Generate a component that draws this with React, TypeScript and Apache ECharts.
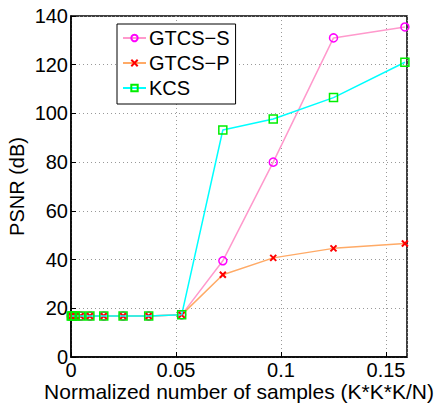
import React, { useEffect, useRef } from "react";
import * as echarts from "echarts";

const xSamples = [0.0001, 0.0006, 0.002, 0.0046, 0.009, 0.0156, 0.0248, 0.037, 0.0527, 0.0723, 0.0963, 0.125, 0.159];
const gtcsS = [16.8, 16.8, 16.8, 16.8, 16.8, 16.8, 16.8, 16.8, 17.3, 39.5, 80, 131, 135.5];
const gtcsP = [16.8, 16.8, 16.8, 16.8, 16.8, 16.8, 16.8, 16.8, 17.3, 33.8, 40.7, 44.6, 46.6];
const kcs = [16.8, 16.8, 16.8, 16.8, 16.8, 16.8, 16.8, 16.8, 17.3, 93.2, 97.7, 106.5, 121];
const seriesNames = ["GTCS\u2212S", "GTCS\u2212P", "KCS"];
const yTicks = [0, 20, 40, 60, 80, 100, 120, 140];
const xTicks = [0, 0.05, 0.1, 0.15];

const FONT = "'Liberation Sans', Arial, sans-serif";
const FS = 20;

export default function App() {
  const ref = useRef<HTMLDivElement>(null);
  useEffect(() => {
    const chart = echarts.init(ref.current!, null, { renderer: "svg" });
    const pair = (ys: number[]) => xSamples.map((x, i) => [x, ys[i]]);
    chart.setOption({
      animation: false,
      backgroundColor: "#ffffff",
      textStyle: { fontFamily: FONT },
      grid: {
        left: 71,
        right: 35,
        top: 16,
        bottom: 47,
        show: true,
        borderColor: "#000",
        borderWidth: 1.5,
        containLabel: false,
        outerBoundsMode: "none",
      },
      legend: {
        orient: "vertical",
        left: 117,
        top: 24,
        padding: [4, 6, 6, 5],
        itemGap: 5,
        itemWidth: 23,
        itemHeight: 8,
        borderColor: "#000",
        borderWidth: 1,
        backgroundColor: "#fff",
        textStyle: { fontSize: FS, color: "#000", fontFamily: FONT, padding: [0, 0, 0, -2] },
        data: seriesNames,
      },
      xAxis: {
        type: "value",
        min: 0,
        max: 0.16,
        interval: 0.05,
        name: "Normalized number of samples (K*K*K/N)",
        nameLocation: "middle",
        nameGap: 24,
        nameMoveOverlap: false,
        nameTextStyle: { fontSize: 21, color: "#000", fontFamily: FONT, verticalAlign: "top" },
        axisLine: { show: true, lineStyle: { color: "#000", width: 1.5 } },
        axisTick: { show: true, inside: true, length: 5, lineStyle: { color: "#000" } },
        axisLabel: {
          fontSize: FS,
          color: "#000",
          margin: 3,
          showMaxLabel: false,
          formatter: (v: number) => (xTicks.some((t) => Math.abs(t - v) < 1e-9) ? String(+v.toFixed(2)) : ""),
        },
        splitLine: { show: true, lineStyle: { color: "#999", type: [1, 3], width: 1 } },
      },
      yAxis: {
        type: "value",
        min: yTicks[0],
        max: yTicks[yTicks.length - 1],
        interval: 20,
        name: "PSNR (dB)",
        nameLocation: "middle",
        nameGap: 44,
        nameMoveOverlap: false,
        nameTextStyle: { fontSize: FS, color: "#000", fontFamily: FONT },
        axisLine: { show: true, lineStyle: { color: "#000", width: 1.5 } },
        axisTick: { show: true, inside: true, length: 5, lineStyle: { color: "#000" } },
        axisLabel: { fontSize: FS, color: "#000", margin: 3 },
        splitLine: { show: true, lineStyle: { color: "#999", type: [1, 3], width: 1 } },
      },
      series: [
        {
          name: seriesNames[0],
          type: "line",
          data: pair(gtcsS),
          symbol: "circle",
          symbolSize: 8,
          z: 2,
          lineStyle: { color: "#ff99cc", width: 1.5 },
          itemStyle: { color: "rgba(0,0,0,0)", borderColor: "#ff00ff", borderWidth: 1.5 },
        },
        {
          name: seriesNames[1],
          type: "line",
          data: pair(gtcsP),
          symbol: "path://M0,0L10,10M10,0L0,10",
          symbolSize: 6,
          z: 3,
          lineStyle: { color: "#ffaa66", width: 1.5 },
          itemStyle: { color: "#ff0000", borderColor: "#ff0000", borderWidth: 2 },
        },
        {
          name: seriesNames[2],
          type: "line",
          data: pair(kcs),
          symbol: "rect",
          symbolSize: 8,
          z: 4,
          lineStyle: { color: "#00ffff", width: 1.5 },
          itemStyle: { color: "rgba(0,0,0,0)", borderColor: "#00ee00", borderWidth: 1.5 },
        },
      ],
    });
    return () => chart.dispose();
  }, []);
  return <div ref={ref} style={{ width: 442, height: 404, position: "absolute", left: 0, top: 0 }} />;
}
